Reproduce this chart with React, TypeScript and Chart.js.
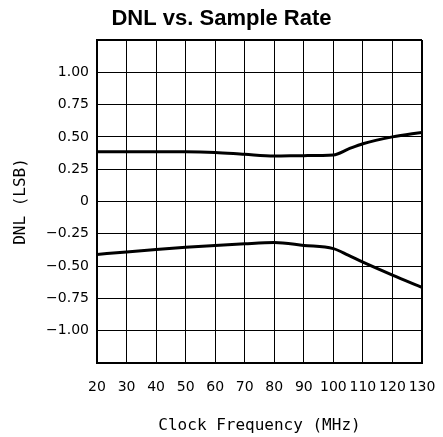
import React, { useEffect, useRef } from "react";
import { Chart, registerables } from "chart.js";

Chart.register(...registerables);

const freqMHz = [20, 30, 40, 50, 60, 70, 80, 90, 100, 105, 110, 120, 130];
const dnlPositive = [0.385, 0.385, 0.385, 0.385, 0.38, 0.365, 0.352, 0.355, 0.36, 0.405, 0.447, 0.5, 0.535];
const dnlNegative = [-0.41, -0.39, -0.372, -0.355, -0.34, -0.327, -0.318, -0.34, -0.365, -0.415, -0.47, -0.57, -0.665];
const titleText = "DNL vs. Sample Rate";
const xTitle = "Clock Frequency (MHz)";
const yTitle = "DNL (LSB)";

const fmtY = (v: number) => {
  if (Math.abs(Math.abs(v) - 1.25) < 1e-9) return "";
  if (Math.abs(v) < 1e-9) return "0";
  const s = Math.abs(v).toFixed(2);
  return v < 0 ? "\u2212" + s : s;
};

const pageTitle = {
  id: "pageTitle",
  afterDraw(chart: any) {
    const ctx = chart.ctx;
    ctx.save();
    ctx.fillStyle = "#000";
    ctx.font = "bold 22px 'Liberation Sans', Arial, sans-serif";
    ctx.textAlign = "center";
    ctx.textBaseline = "middle";
    ctx.fillText(titleText, chart.width / 2, 18.5);
    ctx.restore();
  },
};

export default function App() {
  const ref = useRef<HTMLCanvasElement | null>(null);
  useEffect(() => {
    document.body.style.margin = "0";
    const canvas = ref.current;
    if (!canvas) return;
    const toPts = (ys: number[]) => freqMHz.map((x, i) => ({ x, y: ys[i] }));
    const chart = new Chart(canvas, {
      type: "line",
      data: {
        datasets: [
          {
            data: toPts(dnlPositive),
            borderColor: "#000",
            borderWidth: 3,
            pointRadius: 0,
            cubicInterpolationMode: "monotone",
            fill: false,
          },
          {
            data: toPts(dnlNegative),
            borderColor: "#000",
            borderWidth: 3,
            pointRadius: 0,
            cubicInterpolationMode: "monotone",
            fill: false,
          },
        ],
      },
      plugins: [pageTitle],
      options: {
        animation: false,
        responsive: false,
        devicePixelRatio: 1,
        layout: { padding: { left: 0, right: 21, top: 40, bottom: 0 } },
        plugins: {
          legend: { display: false },
          tooltip: { enabled: false },
          title: { display: false },
        },
        scales: {
          x: {
            type: "linear",
            min: 20,
            max: 130,
            afterFit: (s: any) => {
              s.height = 74;
              s.paddingLeft = 0;
              s.paddingRight = 0;
            },
            ticks: {
              stepSize: 10,
              autoSkip: false,
              maxRotation: 0,
              padding: 16,
              color: "#000",
              font: { family: "'DejaVu Sans', sans-serif", size: 14 },
            },
            grid: {
              color: "#000",
              lineWidth: (c: any) => (c.tick && c.tick.value === 130 ? 2 : 1),
              drawTicks: false,
            },
            border: { color: "#000", width: 2 },
            title: {
              display: true,
              text: xTitle,
              color: "#000",
              font: { family: "'DejaVu Sans Mono', monospace", size: 16 },
              padding: { top: 0, bottom: 1.5 },
            },
          },
          y: {
            type: "linear",
            min: -1.25,
            max: 1.25,
            afterFit: (s: any) => {
              s.width = 97;
              s.paddingTop = 0;
              s.paddingBottom = 0;
            },
            ticks: {
              stepSize: 0.25,
              autoSkip: false,
              padding: 8,
              color: "#000",
              font: { family: "'DejaVu Sans', sans-serif", size: 14 },
              callback: (v: any) => fmtY(Number(v)),
            },
            grid: {
              color: "#000",
              lineWidth: (c: any) => (c.tick && Math.abs(c.tick.value - 1.25) < 1e-9 ? 2 : 1),
              drawTicks: false,
            },
            border: { color: "#000", width: 2 },
            title: {
              display: true,
              text: yTitle,
              color: "#000",
              font: { family: "'DejaVu Sans Mono', monospace", size: 16 },
              padding: { top: 11, bottom: 0 },
            },
          },
        },
      },
    } as any);
    return () => chart.destroy();
  }, []);
  return (
    <div style={{ width: 443, height: 437, background: "#fff" }}>
      <canvas ref={ref} width={443} height={437} style={{ display: "block" }} />
    </div>
  );
}
